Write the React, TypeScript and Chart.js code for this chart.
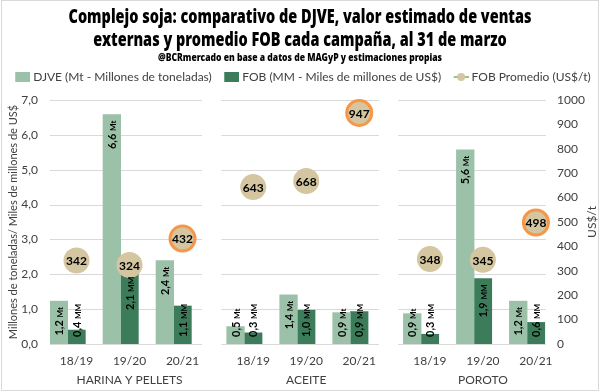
import React, { useEffect, useRef } from 'react';
import { Chart, registerables } from 'chart.js';

Chart.register(...registerables);

// ---------- data ----------
const GROUPS = ['HARINA Y PELLETS', 'ACEITE', 'POROTO'];
const SEASONS = ['18/19', '19/20', '20/21'];
const DJVE_MT = [1.23, 6.58, 2.39, 0.5, 1.41, 0.9, 0.87, 5.57, 1.23];
const FOB_MM = [0.4, 2.1, 1.09, 0.32, 0.97, 0.93, 0.28, 1.88, 0.62];
const FOB_PROMEDIO = [342, 324, 432, 643, 668, 947, 348, 345, 498];
const HIGHLIGHT_SEASON = '20/21';

const LEFT_MAX = 7;
const LEFT_STEP = 1;
const RIGHT_MAX = 1000;
const RIGHT_STEP = 100;

const TITLE_LINES = [
  'Complejo soja: comparativo de DJVE, valor estimado de ventas',
  'externas y promedio FOB cada campaña, al 31 de marzo',
];
const SUBTITLE = '@BCRmercado en base a datos de MAGyP y estimaciones propias';
const LEGEND_LABELS = [
  'DJVE (Mt - Millones de toneladas)',
  'FOB (MM - Miles de millones de US$)',
  'FOB Promedio (US$/t)',
];
const BAR_UNITS = ['Mt', 'MM'];
const LEFT_AXIS_TITLE = 'Millones de toneladas/ Miles de millones de US$';
const RIGHT_AXIS_TITLE = 'US$/t';

// ---------- layout / style ----------
const GROUP_GAP = 1 / 3;
const X_POS = GROUPS.flatMap((_, g) => SEASONS.map((__, s) => g * (SEASONS.length + GROUP_GAP) + s));
const TICK_LABELS = GROUPS.flatMap((g) => SEASONS.map((s, si) => (si === 1 ? [s, g] : s)));
const SEASON_OF = GROUPS.flatMap(() => SEASONS);

const LIGHT = '#9CC1A9';
const DARK = '#3D7C5A';
const BEIGE = '#D4C6A1';
const ORANGE = '#F79646';
const LINE_GREEN = '#A3C27A';
const GRID = '#D9D9D9';
const TEXT = '#404040';
const LATO = "Lato, 'Open Sans', sans-serif";
const COND_FAMILY = "'Noto Sans', 'DejaVu Sans', sans-serif";
const COND_WEIGHT = '900';
const TITLE_SIZE = 18.5;
const SUBTITLE_SIZE = 10.5;
const TITLE_TARGET_W = 463;
const SUBTITLE_TARGET_W = 284;

const fmt1 = (v: number) => v.toFixed(1).replace('.', ',');

function squeezeFor(text: string, size: number, target: number) {
  const c = document.createElement('canvas').getContext('2d')!;
  c.font = `${COND_WEIGHT} ${size}px ${COND_FAMILY}`;
  const w = c.measureText(text).width;
  return Math.min(1, target / w);
}

function makeMarker(kind: 'rect' | 'line', color: string) {
  const c = document.createElement('canvas');
  c.width = 24;
  c.height = 12;
  const g = c.getContext('2d')!;
  if (kind === 'rect') {
    g.fillStyle = color;
    g.fillRect(9, 1, 15, 10);
  } else {
    g.strokeStyle = LINE_GREEN;
    g.lineWidth = 2;
    g.beginPath();
    g.moveTo(9, 6);
    g.lineTo(24, 6);
    g.stroke();
    g.fillStyle = color;
    g.beginPath();
    g.arc(16.5, 6, 4, 0, Math.PI * 2);
    g.fill();
  }
  return c;
}

function makeCondensePlugin(titleScale: number, subScale: number) {
  return {
    id: 'condense',
    beforeDraw(chart: any) {
      chart.boxes.forEach((box: any) => {
        const t = box.options && box.options.text;
        let sx = 0;
        if (String(t) === String(TITLE_LINES)) sx = titleScale;
        else if (String(t) === SUBTITLE) sx = subScale;
        if (sx && !box.__condensed) {
          const orig = box.draw.bind(box);
          box.draw = (area: any) => {
            const ctx = chart.ctx;
            const cx = (box.left + box.right) / 2;
            ctx.save();
            ctx.translate(cx, 0);
            ctx.scale(sx, 1);
            ctx.translate(-cx, 0);
            orig(area);
            ctx.restore();
          };
          box.__condensed = true;
        }
      });
    },
  };
}

const decorPlugin = {
  id: 'decor',
  beforeDraw(chart: any) {
    const { ctx, width, height } = chart;
    ctx.save();
    ctx.fillStyle = '#ffffff';
    ctx.fillRect(0, 0, width, height);
    ctx.restore();
  },
  beforeDatasetsDraw(chart: any) {
    const { ctx, chartArea } = chart;
    const xs = chart.scales.x;
    const ys = chart.scales.y;
    ctx.save();
    ctx.strokeStyle = GRID;
    ctx.lineWidth = 1;
    ys.ticks.forEach((t: any) => {
      const py = Math.round(ys.getPixelForValue(t.value)) + 0.5;
      GROUPS.forEach((_, g) => {
        const start = g * (SEASONS.length + GROUP_GAP);
        const x1 = Math.max(chartArea.left, xs.getPixelForValue(start - 0.6));
        const x2 = Math.min(chartArea.right, xs.getPixelForValue(start + SEASONS.length - 1 + 0.37));
        ctx.beginPath();
        ctx.moveTo(x1, py);
        ctx.lineTo(x2, py);
        ctx.stroke();
      });
    });
    ctx.restore();
  },
  afterDatasetsDraw(chart: any) {
    const { ctx } = chart;
    ctx.save();
    ctx.fillStyle = '#000';
    [0, 1].forEach((di) => {
      const meta = chart.getDatasetMeta(di);
      const unit = BAR_UNITS[di];
      meta.data.forEach((bar: any, i: number) => {
        const v = chart.data.datasets[di].data[i].y;
        const num = fmt1(v) + ' ';
        ctx.font = 'bold 11px ' + LATO;
        const w1 = ctx.measureText(num).width;
        ctx.font = 'bold 8px ' + LATO;
        const w2 = ctx.measureText(unit).width;
        const len = w1 + w2;
        const { x, y, base } = bar.getProps(['x', 'y', 'base'], true);
        let start = y + 6 + len;
        if (start > base - 7) start = base - 7;
        ctx.save();
        ctx.translate(x, start);
        ctx.rotate(-Math.PI / 2);
        ctx.textAlign = 'left';
        ctx.textBaseline = 'alphabetic';
        ctx.font = 'bold 11px ' + LATO;
        ctx.fillText(num, 0, 4);
        ctx.font = 'bold 8px ' + LATO;
        ctx.fillText(unit, w1, 4);
        ctx.restore();
      });
    });
    const pm = chart.getDatasetMeta(3);
    ctx.font = 'bold 12px ' + LATO;
    ctx.textAlign = 'center';
    ctx.textBaseline = 'middle';
    pm.data.forEach((pt: any, i: number) => {
      const { x, y } = pt.getProps(['x', 'y'], true);
      ctx.fillText(String(FOB_PROMEDIO[i]), x, y + 1);
    });
    ctx.restore();
  },
  afterDraw(chart: any) {
    const { ctx, chartArea } = chart;
    ctx.save();
    ctx.fillStyle = TEXT;
    ctx.font = '12px ' + LATO;
    ctx.textAlign = 'center';
    ctx.textBaseline = 'middle';
    ctx.translate(592, (chartArea.top + chartArea.bottom) / 2);
    ctx.rotate(-Math.PI / 2);
    ctx.fillText(RIGHT_AXIS_TITLE, 0, 0);
    ctx.restore();
    ctx.save();
    ctx.strokeStyle = GRID;
    ctx.lineWidth = 1;
    ctx.strokeRect(1.5, 0.5, 597, 390);
    ctx.restore();
  },
};

export default function App() {
  const ref = useRef<HTMLCanvasElement>(null);
  useEffect(() => {
    const canvas = ref.current;
    if (!canvas) return;
    const markers = [makeMarker('rect', LIGHT), makeMarker('rect', DARK), makeMarker('line', BEIGE)];
    const isHL = (i: number) => SEASON_OF[i] === HIGHLIGHT_SEASON;
    const titleScale = squeezeFor(TITLE_LINES[0], TITLE_SIZE, TITLE_TARGET_W);
    const subScale = squeezeFor(SUBTITLE, SUBTITLE_SIZE, SUBTITLE_TARGET_W);
    const chart = new Chart(canvas, {
      type: 'bar',
      data: {
        datasets: [
          {
            type: 'bar',
            label: LEGEND_LABELS[0],
            data: X_POS.map((x, i) => ({ x, y: DJVE_MT[i] })),
            backgroundColor: LIGHT,
            borderWidth: 0,
            categoryPercentage: 1,
            barPercentage: 1,
            yAxisID: 'y',
            order: 2,
          },
          {
            type: 'bar',
            label: LEGEND_LABELS[1],
            data: X_POS.map((x, i) => ({ x, y: FOB_MM[i] })),
            backgroundColor: DARK,
            borderWidth: 0,
            categoryPercentage: 1,
            barPercentage: 1,
            yAxisID: 'y',
            order: 2,
          },
          {
            type: 'bar',
            label: '',
            data: X_POS.map((x) => ({ x, y: 0 })),
            backgroundColor: 'rgba(0,0,0,0)',
            borderWidth: 0,
            categoryPercentage: 1,
            barPercentage: 1,
            yAxisID: 'y',
            order: 2,
          },
          {
            type: 'line',
            label: LEGEND_LABELS[2],
            data: X_POS.map((x, i) => ({ x, y: FOB_PROMEDIO[i] })),
            yAxisID: 'y1',
            showLine: false,
            borderColor: LINE_GREEN,
            pointBackgroundColor: BEIGE,
            pointBorderColor: X_POS.map((_, i) => (isHL(i) ? ORANGE : BEIGE)),
            pointBorderWidth: X_POS.map((_, i) => (isHL(i) ? 3 : 0)),
            pointRadius: X_POS.map((_, i) => (isHL(i) ? 12.5 : 13)),
            pointHoverRadius: X_POS.map((_, i) => (isHL(i) ? 12.5 : 13)),
            clip: false,
            order: 0,
          } as any,
        ],
      },
      options: {
        responsive: false,
        animation: false,
        devicePixelRatio: 1,
        events: [],
        layout: { padding: 0 },
        plugins: {
          tooltip: { enabled: false },
          title: {
            display: true,
            text: TITLE_LINES,
            color: '#000',
            font: { family: COND_FAMILY, size: TITLE_SIZE, weight: COND_WEIGHT, lineHeight: '23.5px' },
            padding: { top: 5.5, bottom: 0 },
          },
          subtitle: {
            display: true,
            text: SUBTITLE,
            color: '#000',
            font: { family: COND_FAMILY, size: SUBTITLE_SIZE, weight: COND_WEIGHT, lineHeight: '12px' },
            padding: { top: 0, bottom: 0 },
          },
          legend: {
            display: true,
            position: 'top',
            labels: {
              usePointStyle: true,
              pointStyleWidth: 18,
              boxWidth: 18,
              boxHeight: 10,
              padding: 6.5,
              color: TEXT,
              font: { family: LATO, size: 12 },
              generateLabels: () =>
                LEGEND_LABELS.map((text, i) => ({
                  text,
                  pointStyle: markers[i],
                  fillStyle: 'rgba(0,0,0,0)',
                  strokeStyle: 'rgba(0,0,0,0)',
                  lineWidth: 0,
                  hidden: false,
                  datasetIndex: i === 2 ? 3 : i,
                  fontColor: TEXT,
                })) as any,
            },
          },
        },
        scales: {
          x: {
            type: 'linear',
            position: 'bottom',
            min: -0.5,
            max: X_POS[X_POS.length - 1] + 0.19,
            bounds: 'data',
            offset: false,
            grid: { display: false, drawTicks: false },
            border: { display: false },
            ticks: {
              autoSkip: false,
              maxRotation: 0,
              minRotation: 0,
              padding: 8,
              color: TEXT,
              font: { family: LATO, size: 12, lineHeight: '19px' },
              callback: (_v: any, i: number) => TICK_LABELS[i] as any,
            },
            afterBuildTicks: (s: any) => {
              s.ticks = X_POS.map((value) => ({ value }));
            },
            afterFit: (s: any) => {
              s.height = 48;
            },
          } as any,
          xTop: {
            type: 'linear',
            position: 'top',
            display: true,
            grid: { display: false, drawTicks: false },
            border: { display: false },
            ticks: { display: false },
            afterFit: (s: any) => {
              s.height = 7;
            },
          } as any,
          y: {
            type: 'linear',
            position: 'left',
            min: 0,
            max: LEFT_MAX,
            grid: { display: false, drawTicks: false },
            border: { display: false },
            ticks: {
              stepSize: LEFT_STEP,
              padding: 12,
              color: TEXT,
              font: { family: LATO, size: 12 },
              callback: (v: any) => fmt1(Number(v)),
            },
            title: {
              display: true,
              text: LEFT_AXIS_TITLE,
              color: TEXT,
              font: { family: LATO, size: 11 },
              padding: { top: 7, bottom: 0 },
            },
            afterFit: (s: any) => {
              s.width = 50;
            },
          } as any,
          y1: {
            type: 'linear',
            position: 'right',
            min: 0,
            max: RIGHT_MAX,
            grid: { display: false, drawTicks: false },
            border: { display: false },
            ticks: {
              stepSize: RIGHT_STEP,
              padding: 11,
              color: TEXT,
              font: { family: LATO, size: 12 },
              callback: (v: any) => String(v),
            },
            afterFit: (s: any) => {
              s.width = 54;
            },
          } as any,
        },
      },
      plugins: [makeCondensePlugin(titleScale, subScale), decorPlugin],
    } as any);
    return () => chart.destroy();
  }, []);
  return (
    <div style={{ position: 'fixed', left: 0, top: 0, width: 600, height: 392, background: '#fff' }}>
      <canvas ref={ref} width={600} height={392} style={{ display: 'block', width: 600, height: 392 }} />
    </div>
  );
}
